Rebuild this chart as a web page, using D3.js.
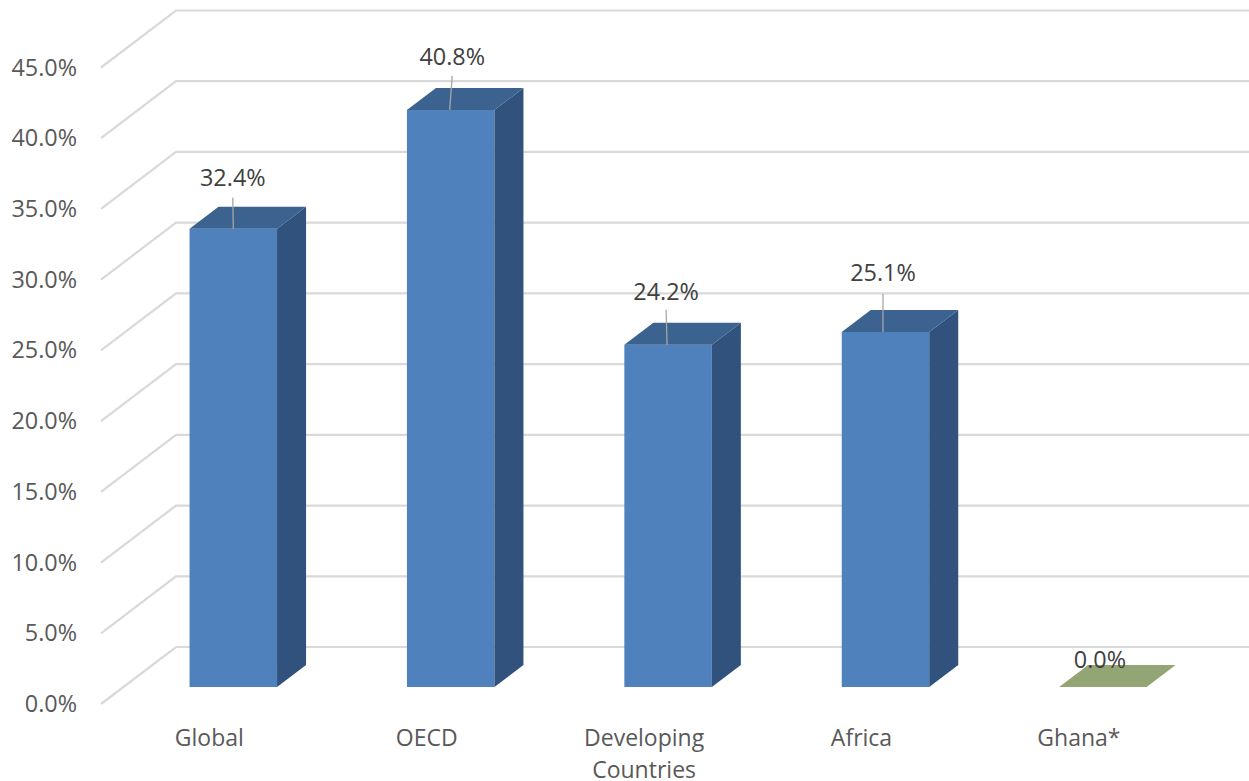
<!DOCTYPE html>
<html>
<head>
<meta charset="utf-8">
<script src="https://cdn.jsdelivr.net/npm/d3@7"></script>
<style>
  html, body { margin: 0; padding: 0; background: #fff; overflow: hidden; }
  text { font-family: "Open Sans", sans-serif; }
</style>
</head>
<body>
<div id="chart"></div>
<script>
var categories = ['Global', 'OECD', 'Developing Countries', 'Africa', 'Ghana*'];
var values = [32.4, 40.8, 24.2, 25.1, 0.0];
var yTicks = [0, 5, 10, 15, 20, 25, 30, 35, 40, 45];

var width = 1249;
var height = 781;

// 3d look: the bars go back by depthX/depthY, the walls by wall*
var depthX = 29, depthY = 22;
var wallFront = 17, wallBack = 40, wallLeft = 101, wallCorner = 176;

var svg = d3.select('#chart')
  .append('svg')
  .attr('width', width)
  .attr('height', height);

var x = d3.scaleBand()
  .domain(categories)
  .range([124.6, 1211.6])
  .paddingInner(0.5975)
  .paddingOuter(0.29875);

var y = d3.scaleLinear()
  .domain([0, 45])
  .range([687, 50.5]);

// gridlines
var grid = svg.append('g');
grid.selectAll('path')
  .data(yTicks)
  .enter()
  .append('path')
  .attr('d', function(d){
    return 'M' + wallLeft + ',' + (y(d) + wallFront) +
      'L' + wallCorner + ',' + (y(d) - wallBack) +
      'H' + width;
  })
  .attr('fill', 'none')
  .attr('stroke', '#d9d9d9')
  .attr('stroke-width', 2.2);

// bars
var bars = svg.selectAll('g.bar')
  .data(values)
  .enter()
  .append('g')
  .attr('class', 'bar');

var xOf = function(d, i){ return x(categories[i]); };
var bw = x.bandwidth();

bars.filter(function(d){ return d > 0; })
  .append('rect')
  .attr('x', function(d){ return x(categories[values.indexOf(d)]); })
  .attr('y', function(d){ return y(d); })
  .attr('width', bw)
  .attr('height', function(d){ return y(0) - y(d); })
  .attr('fill', '#4f81bd');

bars.filter(function(d){ return d > 0; })
  .append('path')
  .attr('d', function(d){
    var r = x(categories[values.indexOf(d)]) + bw;
    return 'M' + r + ',' + y(d) + 'l' + depthX + ',' + (-depthY) +
      'V' + (y(0) - depthY) + 'l' + (-depthX) + ',' + depthY + 'Z';
  })
  .attr('fill', '#31527c');

bars.append('path')
  .attr('d', function(d, i){
    return 'M' + xOf(d, i) + ',' + y(d) + 'l' + depthX + ',' + (-depthY) +
      'h' + bw + 'l' + (-depthX) + ',' + depthY + 'Z';
  })
  .attr('fill', function(d){ return d > 0 ? '#3c6290' : '#94a575'; });

// leader lines and data labels, each label was moved by hand in the original
var labelShiftX = [-0.5, 1.5, -2, -2.5, -3];
var labelLift = [43, 44.5, 45, 51, 19];
var leaderFoot = [0, -1, -1, -2.5, 0];
var leaderLength = [31, 34, 35, 38, 0];

bars.filter(function(d){ return d > 0; })
  .append('line')
  .attr('x1', function(d){ var i = values.indexOf(d); return x(categories[i]) + bw / 2 + leaderFoot[i]; })
  .attr('y1', function(d){ return y(d); })
  .attr('x2', function(d){ var i = values.indexOf(d); return x(categories[i]) + bw / 2 + labelShiftX[i]; })
  .attr('y2', function(d){ return y(d) - leaderLength[values.indexOf(d)]; })
  .attr('stroke', '#a6a6a6')
  .attr('stroke-width', 1.3);

bars.append('text')
  .text(function(d){ return d.toFixed(1) + '%'; })
  .attr('x', function(d, i){ return xOf(d, i) + bw / 2 + labelShiftX[i]; })
  .attr('y', function(d, i){ return y(d) - labelLift[i]; })
  .attr('text-anchor', 'middle')
  .attr('font-size', '23.4px')
  .attr('fill', '#404040');

// axes
var yAxis = d3.axisLeft(y)
  .tickValues(yTicks)
  .tickSize(0)
  .tickPadding(0)
  .tickFormat(function(d){ return d.toFixed(1) + '%'; });

var yG = svg.append('g')
  .attr('transform', 'translate(77,' + wallFront + ')')
  .call(yAxis);

var xAxis = d3.axisBottom(x)
  .tickSize(0)
  .tickPadding(0);

var xG = svg.append('g')
  .attr('transform', 'translate(-24,725)')
  .call(xAxis);

yG.select('.domain').remove();
xG.select('.domain').remove();

yG.selectAll('text')
  .attr('font-family', null)
  .attr('font-size', '23.4px')
  .attr('fill', '#595959');

xG.selectAll('text')
  .attr('font-family', null)
  .attr('font-size', '23px')
  .attr('fill', '#595959')
  .each(function(d){
    var t = d3.select(this);
    var words = d.split(' ');
    t.text(null).attr('dy', null).attr('y', 0);
    words.forEach(function(w, i){
      t.append('tspan')
        .attr('x', 0)
        .attr('y', 21 + i * 32)
        .text(w);
    });
  });
</script>
</body>
</html>
